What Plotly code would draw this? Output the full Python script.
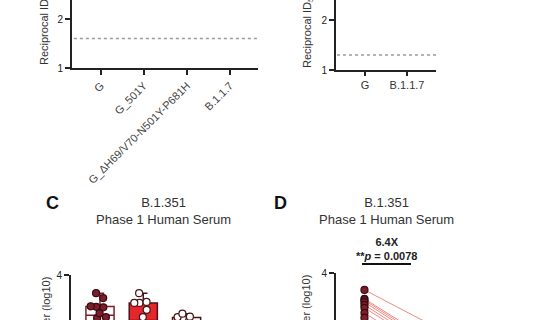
import plotly.graph_objects as go

W, H = 540, 320

# ---------------- data ----------------
a_categories = ["G", "G_501Y", "G_ΔH69/V70-N501Y-P681H", "B.1.1.7"]
b_categories = ["G", "B.1.1.7"]
d_categories = ["G", "B.1.351"]
a_lod = [1.602]          # log10(40)
b_lod = [1.301]          # log10(20)

c_g = [3.63, 3.53, 3.36, 3.35, 3.34, 3.22, 3.14, 3.12, 2.95, 2.85, 2.70, 2.60]
c_boost = [3.63, 3.45, 3.43, 3.43, 3.29, 3.14, 3.00, 2.90, 2.75, 2.60, 2.50, 2.40]
c_b1351 = [3.21, 3.15, 3.14, 3.13, 2.90, 2.80, 2.70, 2.60, 2.50, 2.40, 2.30, 2.20]

d_g = [3.64, 3.45, 3.42, 3.38, 3.32, 3.26, 3.15, 3.05]
d_b1351 = [2.68, 2.30, 2.25, 2.20, 2.15, 2.10, 2.00, 1.95]

FONT = "Liberation Sans, Arial, sans-serif"
AX = "#222222"
TXT = "#333333"
MAROON = "#7d1f2b"
RED = "#e5262d"


def px(x):
    return x / W


def py(y):
    return 1 - y / H


fig = go.Figure()

# ---- C: boxes ----
def add_box(vals, pos, fill, line, mfill, mline):
    fig.add_trace(go.Box(
        y=vals, x=[pos] * len(vals), xaxis="x3", yaxis="y3",
        width=0.65, whiskerwidth=0.3, fillcolor=fill,
        line=dict(color=line, width=1.5),
        boxpoints="all", jitter=0.9, pointpos=0,
        marker=dict(size=7, color=mfill, line=dict(color=mline, width=1.2)),
        showlegend=False, hoverinfo="skip",
    ))

add_box(c_g, 0, "white", MAROON, MAROON, "#3a0a10")
add_box(c_boost, 1, RED, "#4a1416", "white", "#4a1416")
add_box(c_b1351, 2, "white", "#4a1416", "white", "#4a1416")

# ---- D: paired lines ----
for g, b in zip(d_g, d_b1351):
    fig.add_trace(go.Scatter(
        x=[0, 1], y=[g, b], xaxis="x4", yaxis="y4", mode="lines",
        line=dict(color="#ec8a84", width=1), showlegend=False, hoverinfo="skip"))
fig.add_trace(go.Scatter(
    x=[0] * len(d_g), y=d_g, xaxis="x4", yaxis="y4", mode="markers",
    marker=dict(size=7, color=MAROON, line=dict(color="#3a0a10", width=1.2)),
    showlegend=False, hoverinfo="skip"))
fig.add_trace(go.Scatter(
    x=[1] * len(d_b1351), y=d_b1351, xaxis="x4", yaxis="y4", mode="markers",
    marker=dict(size=7, color=RED, line=dict(color="#4a1416", width=1.2)),
    showlegend=False, hoverinfo="skip"))

# invisible traces so A/B axes render
fig.add_trace(go.Scatter(x=[None], y=[None], xaxis="x", yaxis="y", showlegend=False))
fig.add_trace(go.Scatter(x=[None], y=[None], xaxis="x2", yaxis="y2", showlegend=False))

axis_common = dict(showline=True, linecolor=AX, linewidth=2, ticks="outside",
                   ticklen=5, tickwidth=2, tickcolor=AX, showgrid=False,
                   zeroline=False, automargin=False,
                   tickfont=dict(family=FONT, size=10, color="#222"))

fig.update_layout(
    template="none",
    width=W, height=H, autosize=False,
    margin=dict(l=0, r=0, t=0, b=0, pad=0),
    paper_bgcolor="white", plot_bgcolor="white",
    font=dict(family=FONT, color=TXT),
    showlegend=False,
    xaxis=dict(domain=[px(72), px(258)], range=[-0.67, 3.65], anchor="y",
               tickvals=list(range(len(a_categories))), ticktext=a_categories,
               tickangle=-45,
               **{**axis_common, "tickfont": dict(family=FONT, size=11, color="#444")}),
    yaxis=dict(domain=[py(68), 1], range=[1, 1 + 68 / 49], anchor="x",
               tickvals=[1, 2, 3], **axis_common),
    xaxis2=dict(domain=[px(336), px(436)], range=[-0.69, 1.69], anchor="y2",
                tickvals=list(range(len(b_categories))), ticktext=b_categories,
                **{**axis_common, "ticklen": 4,
                   "tickfont": dict(family=FONT, size=11, color="#333")}),
    yaxis2=dict(domain=[py(70), 1], range=[1, 2.4], anchor="x2",
                tickvals=[1, 2, 3], **axis_common),
    xaxis3=dict(domain=[px(71), px(258)], range=[-0.67, 3.65], anchor="y3",
                visible=False, automargin=False),
    yaxis3=dict(domain=[0, 45 / H], range=[4 - 45 / 49, 4.0], anchor="x3",
                tickvals=[4], **axis_common),
    xaxis4=dict(domain=[px(336), px(480)], range=[-0.33, 1.34], anchor="y4",
                tickvals=[0, 1], ticktext=d_categories, visible=False,
                automargin=False),
    yaxis4=dict(domain=[0, 47 / H], range=[3.0, 4.0], anchor="x4",
                tickvals=[4], **axis_common),
)

# LOD dotted lines
fig.add_shape(type="line", xref="x domain", yref="y", x0=0.01, x1=1,
              y0=a_lod[0], y1=a_lod[0], line=dict(color="#9a9a9a", width=1.5, dash="dot"))
fig.add_shape(type="line", xref="x2 domain", yref="y2", x0=0.01, x1=1,
              y0=b_lod[0], y1=b_lod[0], line=dict(color="#9a9a9a", width=1.5, dash="dot"))

ytitle = "Reciprocal ID<sub>50</sub> Titer (log10)"
ann = [
    dict(x=px(45), y=py(67), text=ytitle, textangle=-90, yanchor="bottom",
         font=dict(size=11)),
    dict(x=px(308), y=py(70), text=ytitle, textangle=-90, yanchor="bottom",
         font=dict(size=11)),
    dict(x=px(47), y=py(275), text=ytitle, textangle=-90, yanchor="top",
         font=dict(size=11)),
    dict(x=px(307), y=py(273), text=ytitle, textangle=-90, yanchor="top",
         font=dict(size=11)),
    dict(x=px(52), y=py(203), text="<b>C</b>", font=dict(size=18, color="#111")),
    dict(x=px(280), y=py(203), text="<b>D</b>", font=dict(size=18, color="#111")),
    dict(x=px(163), y=py(211), text="B.1.351<br>Phase 1 Human Serum",
         font=dict(size=13)),
    dict(x=px(386), y=py(211), text="B.1.351<br>Phase 1 Human Serum",
         font=dict(size=13)),
    dict(x=px(386), y=py(249), text="<b>6.4X</b><br><b>**<i>p</i> = 0.0078</b>",
         font=dict(size=11, color="#222")),
]
for a in ann:
    a.setdefault("xref", "paper")
    a.setdefault("yref", "paper")
    a.setdefault("xanchor", "center")
    a.setdefault("yanchor", "middle")
    a["showarrow"] = False
    fig.add_annotation(**a)

fig.add_shape(type="line", xref="paper", yref="paper", x0=px(362), x1=px(411),
              y0=py(264), y1=py(264), line=dict(color="#111", width=2))

fig.write_html("out.html")
